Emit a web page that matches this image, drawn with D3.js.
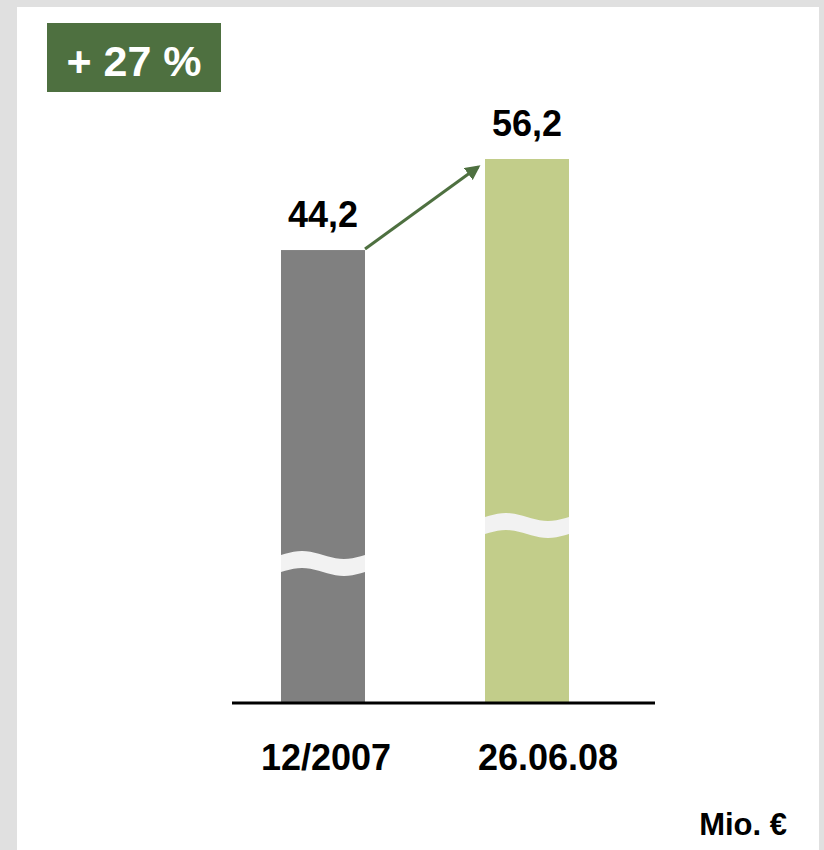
<!DOCTYPE html>
<html>
<head>
<meta charset="utf-8">
<script src="https://cdn.jsdelivr.net/npm/d3@7"></script>
<style>
    body { margin: 0; background: #e0e0e0; }
    text { font-family: "Liberation Sans", Arial, sans-serif; font-weight: bold; }
</style>
</head>
<body>
<div id="chart"></div>
<script>
// data
const categories = ['12/2007', '26.06.08'];
const values = [44.2, 56.2];
const valueLabels = ['44,2', '56,2'];
const barColors = ['#808080', '#c2cd8a'];
const labelShift = [3, 21];
const changeLabel = '+ 27 %';
const unitLabel = 'Mio. €';

const width = 824;
const height = 850;
const green = '#4e7040';

const svg = d3.select('#chart')
    .append('svg')
    .attr('width', width)
    .attr('height', height);

// white panel
svg.append('rect')
    .attr('x', 17)
    .attr('y', 7)
    .attr('width', 802)
    .attr('height', height)
    .attr('fill', '#ffffff');

const x = d3.scaleBand()
    .domain(categories)
    .range([179, 671])
    .paddingInner(120 / 204)
    .paddingOuter(0.5);

// broken axis, so the domain does not start at zero
const y = d3.scaleLinear()
    .domain([-15.5, 56.2])
    .range([703, 159]);

const bars = svg.selectAll('.bar')
    .data(categories)
    .enter()
    .append('g')
    .attr('class', 'bar');

bars.append('rect')
    .attr('x', (d) => x(d))
    .attr('y', (d, i) => y(values[i]))
    .attr('width', x.bandwidth())
    .attr('height', (d, i) => y.range()[0] - y(values[i]))
    .attr('fill', (d, i) => barColors[i]);

// axis break waves
const breakY = [563, 525];
const wave = (x0, w, yc, amp) => {
    const pts = d3.range(0, 1.0001, 0.05).map((t) => [x0 + t * w, yc - amp * Math.sin(t * 2 * Math.PI)]);
    return pts;
};
bars.append('path')
    .attr('d', (d, i) => {
        const top = wave(x(d), x.bandwidth(), breakY[i] - 8, 4);
        const bottom = wave(x(d), x.bandwidth(), breakY[i] + 9, 4).reverse();
        return d3.line()(top.concat(bottom)) + 'Z';
    })
    .attr('fill', '#f2f2f2');

bars.append('text')
    .attr('x', (d) => x(d) + x.bandwidth() / 2)
    .attr('y', (d, i) => y(values[i]) - 23)
    .attr('text-anchor', 'middle')
    .style('font-size', '36px')
    .attr('fill', '#000')
    .text((d, i) => valueLabels[i]);

bars.append('text')
    .attr('x', (d, i) => x(d) + x.bandwidth() / 2 + labelShift[i])
    .attr('y', 770)
    .attr('text-anchor', 'middle')
    .style('font-size', '36px')
    .attr('fill', '#000')
    .text((d) => d);

// baseline
svg.append('line')
    .attr('x1', 232)
    .attr('x2', 655)
    .attr('y1', 703)
    .attr('y2', 703)
    .attr('stroke', '#000')
    .attr('stroke-width', 3);

// arrow between bars
svg.append('defs')
    .append('marker')
    .attr('id', 'arrow')
    .attr('viewBox', '0 0 10 10')
    .attr('refX', 8)
    .attr('refY', 5)
    .attr('markerWidth', 5)
    .attr('markerHeight', 5)
    .attr('orient', 'auto')
    .append('path')
    .attr('d', 'M0,0L10,5L0,10Z')
    .attr('fill', green);

svg.append('line')
    .attr('x1', x(categories[0]) + x.bandwidth())
    .attr('y1', y(values[0]) - 1)
    .attr('x2', x(categories[1]) - 7)
    .attr('y2', y(values[1]) + 8)
    .attr('stroke', green)
    .attr('stroke-width', 3)
    .attr('marker-end', 'url(#arrow)');

// change badge
svg.append('rect')
    .attr('x', 47)
    .attr('y', 23)
    .attr('width', 174)
    .attr('height', 69)
    .attr('fill', green);

svg.append('text')
    .attr('x', 134)
    .attr('y', 76)
    .attr('text-anchor', 'middle')
    .style('font-size', '43px')
    .attr('fill', '#fff')
    .text(changeLabel);

svg.append('text')
    .attr('x', 787)
    .attr('y', 835)
    .attr('text-anchor', 'end')
    .style('font-size', '31px')
    .attr('fill', '#000')
    .text(unitLabel);
</script>
</body>
</html>
